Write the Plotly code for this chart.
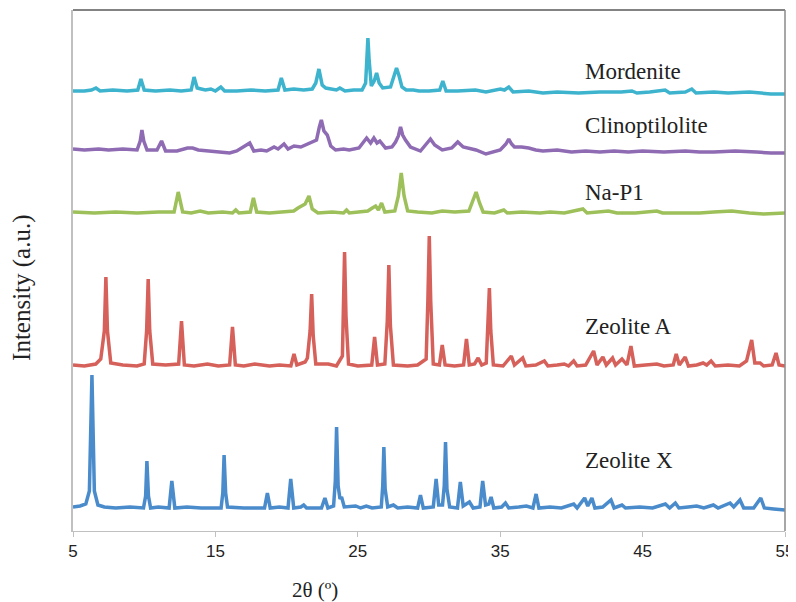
import plotly.graph_objects as go

# ---------------- data (2θ in degrees, intensity in a.u., stacked as drawn) ----------------
zx_x = [5.0, 5.5, 5.9, 6.15, 6.33, 6.5, 6.75, 7.2, 8.0, 9.0, 9.95, 10.1, 10.19, 10.3, 10.45, 11.0,
        11.75, 11.94, 12.15, 13.0, 14.0, 15.4, 15.52, 15.61, 15.72, 15.85, 17.0, 18.45, 18.65,
        18.85, 19.5, 20.1, 20.29, 20.5, 21.0, 21.2, 21.4, 22.45, 22.69, 22.9, 23.3, 23.42, 23.51,
        23.62, 23.75, 23.86, 24.05, 24.85, 25.2, 25.6, 26.0, 26.65, 26.75, 26.83, 26.92, 27.1,
        27.5, 27.8, 28.5, 29.2, 29.4, 29.6, 30.3, 30.5, 30.68, 30.95, 31.07, 31.16, 31.26, 31.45,
        32.0, 32.2, 32.4, 32.84, 33.1, 33.58, 33.77, 33.97, 34.2, 34.36, 34.55, 35.1, 35.37, 35.6,
        36.3, 36.84, 37.3, 37.52, 37.72, 38.5, 39.3, 40.16, 40.4, 40.93, 41.15, 41.44, 41.65,
        42.2, 42.78, 43.0, 43.55, 43.8, 44.8, 45.7, 46.6, 46.9, 47.3, 47.55, 48.2, 48.8, 49.3,
        49.97, 50.3, 51.14, 51.4, 51.84, 52.1, 52.8, 53.3, 53.55, 54.2, 55.0]
zx_y = [24, 25, 27, 40, 156, 40, 26, 24, 23, 24, 23, 35, 70, 35, 23, 24,
        23, 50, 23, 24, 23, 23, 38, 76, 38, 24, 23, 23, 38,
        23, 24, 23, 52, 23, 24, 26, 23, 23, 33, 23, 25, 50, 104,
        45, 32, 34, 24, 25, 23, 25, 23, 24, 45, 84, 42, 24,
        26, 23, 24, 23, 36, 23, 24, 52, 26, 26, 45, 89, 42, 24,
        23, 49, 25, 29, 23, 24, 50, 26, 27, 34, 23, 24, 28, 23,
        24, 25, 23, 37, 23, 24, 23, 27, 23, 33, 25, 33, 23,
        24, 31, 23, 26, 23, 24, 23, 27, 23, 28, 23, 24, 25, 23,
        26, 23, 28, 24, 31, 23, 23, 33, 23, 22, 21]

za_x = [5.0, 5.8, 6.6, 6.95, 7.2, 7.31, 7.42, 7.65, 8.5, 9.5, 10.0, 10.17, 10.28, 10.39, 10.6,
        11.5, 12.42, 12.62, 12.82, 13.5, 14.44, 15.2, 16.0, 16.2, 16.4, 17.0, 17.76, 18.8, 19.5,
        20.3, 20.52, 20.72, 21.3, 21.46, 21.65, 21.76, 21.87, 22.05, 22.93, 23.5, 23.92, 23.97,
        24.07, 24.17, 24.35, 25.0, 25.98, 26.18, 26.38, 26.9, 27.07, 27.18, 27.29, 27.5, 28.5,
        29.2, 29.8, 29.92, 30.02, 30.12, 30.3, 30.73, 30.93, 31.13, 31.8, 32.43, 32.63, 32.83,
        33.2, 33.45, 33.7, 34.02, 34.14, 34.24, 34.34, 34.52, 35.2, 35.78, 36.0, 36.58, 36.8,
        37.5, 38.1, 38.35, 39.0, 39.5, 39.8, 40.16, 40.4, 41.0, 41.56, 41.8, 42.21, 42.45, 42.89,
        43.1, 43.55, 43.9, 44.18, 44.42, 45.2, 46.0, 46.5, 47.15, 47.36, 47.58, 47.99, 48.22,
        48.8, 49.25, 49.5, 49.81, 50.1, 51.0, 51.8, 52.08, 52.3, 52.66, 52.88, 53.25, 53.5, 54.1,
        54.37, 54.58, 55.0]
za_y = [166, 165, 167, 172, 200, 254, 200, 168, 166, 165, 167, 200, 252, 200, 167,
        166, 167, 210, 166, 165, 167, 165, 166, 204, 166, 165, 167, 165, 166,
        165, 177, 166, 169, 173, 200, 237, 195, 167, 167, 165, 175, 220,
        279, 215, 167, 165, 166, 194, 166, 167, 210, 266, 205, 166, 165,
        166, 172, 230, 295, 230, 167, 166, 186, 166, 165, 166, 192, 166,
        167, 173, 166, 168, 205, 243, 200, 166, 165, 175, 166, 173, 165,
        166, 170, 165, 166, 167, 165, 170, 165, 166, 180, 166, 174, 166, 173,
        166, 172, 166, 185, 165, 166, 167, 165, 166, 177, 166, 174, 165,
        166, 168, 166, 170, 165, 166, 165, 168, 170, 191, 168, 168, 165, 166,
        178, 166, 165]

np_x = [5.0, 6.5, 8.0, 9.5, 11.0, 12.1, 12.39, 12.7, 13.3, 13.93, 14.5, 15.5, 16.2, 16.43, 16.65,
        17.45, 17.67, 17.9, 18.8, 19.8, 20.5, 20.8, 21.3, 21.57, 21.8, 22.2, 23.2, 24.0, 24.21,
        24.4, 25.2, 25.7, 26.02, 26.25, 26.45, 26.67, 26.9, 27.6, 27.85, 28.05, 28.25, 28.5, 29.2,
        30.2, 30.93, 31.8, 32.8, 33.1, 33.31, 33.55, 33.8, 34.6, 35.25, 35.5, 36.5, 37.8, 38.5,
        39.5, 40.81, 41.1, 42.6, 43.2, 44.5, 46.0, 46.4, 47.5, 49.0, 50.0, 51.26, 52.5, 53.5, 55.0]
np_y = [319, 318, 319, 318, 319, 319, 339, 319, 318, 320, 318, 319, 318, 321, 318,
        319, 333, 319, 318, 319, 320, 323, 327, 335, 322, 318, 319, 318, 321,
        318, 319, 320, 323, 325, 321, 328, 319, 320, 335, 358, 335, 320, 319,
        318, 320, 319, 320, 330, 339, 328, 319, 318, 321, 318, 319, 318, 319,
        318, 322, 318, 320, 318, 318, 320, 318, 318, 318, 319, 320, 318, 317, 318]

cl_x = [5.0, 5.8, 6.8, 7.5, 8.5, 9.5, 9.72, 9.84, 9.97, 10.2, 10.9, 11.22, 11.5, 12.3, 13.04, 13.4,
        13.8, 14.5, 15.2, 16.0, 16.5, 16.97, 17.41, 17.7, 18.2, 18.6, 19.12, 19.4, 19.82, 20.1,
        20.52, 21.0, 21.57, 22.1, 22.3, 22.44, 22.62, 22.86, 23.1, 23.44, 24.0, 24.4, 25.08, 25.62,
        25.9, 26.13, 26.35, 26.55, 26.95, 27.4, 27.65, 27.85, 28.0, 28.15, 28.35, 28.7, 29.4,
        29.75, 29.99, 30.1, 30.4, 30.93, 31.6, 32.02, 32.4, 32.79, 33.3, 34.0, 34.5, 35.0, 35.4,
        35.6, 35.8, 36.0, 36.5, 37.0, 37.5, 38.0, 39.0, 40.0, 41.0, 42.0, 43.0, 44.0, 45.0, 46.5,
        48.0, 49.0, 50.0, 51.5, 53.0, 54.0, 55.0]
cl_y = [382, 381, 382, 381, 382, 381, 390, 401, 390, 381, 381, 390, 380, 380, 383, 383,
        381, 380, 379, 378, 380, 384, 388, 380, 381, 380, 384, 382, 387, 382,
        385, 384, 388, 391, 404, 411, 400, 396, 385, 381, 382, 381, 383, 393,
        388, 393, 388, 390, 383, 384, 389, 395, 404, 396, 391, 384, 380,
        386, 389, 392, 386, 381, 383, 389, 384, 383, 381, 377, 379, 381, 387,
        392, 387, 384, 384, 383, 381, 380, 381, 379, 380, 379, 380, 379, 380, 379,
        380, 379, 379, 380, 379, 378, 378]

mo_x = [5.0, 5.8, 6.3, 6.61, 6.9, 7.8, 8.8, 9.55, 9.77, 10.0, 10.8, 11.8, 12.6, 13.3, 13.5, 13.72,
        14.0, 14.3, 14.68, 15.0, 15.38, 15.65, 16.5, 17.5, 18.5, 19.4, 19.63, 19.88, 20.5, 21.2,
        21.8, 22.05, 22.27, 22.5, 22.75, 23.21, 23.5, 23.74, 24.1, 24.7, 25.3, 25.55, 25.63, 25.71,
        25.8, 25.95, 26.15, 26.32, 26.5, 26.75, 27.3, 27.55, 27.72, 27.9, 28.1, 28.4, 28.9, 29.3,
        30.0, 30.75, 30.97, 31.2, 32.0, 33.26, 34.0, 35.01, 35.3, 35.6, 35.9, 37.0, 38.0, 39.0,
        40.5, 42.0, 43.5, 44.25, 44.6, 45.5, 46.58, 46.9, 48.0, 48.45, 48.75, 50.0, 51.0, 52.5,
        54.0, 55.0]
mo_y = [440, 440, 441, 443, 440, 441, 440, 441, 452, 441, 440, 441, 440, 441, 454, 443,
        442, 441, 442, 440, 444, 440, 440, 441, 440, 441, 453, 441, 442, 441,
        442, 448, 462, 446, 443, 442, 441, 443, 440, 441, 441, 448, 475, 493,
        470, 445, 450, 458, 448, 443, 444, 455, 463, 455, 444, 441, 441, 440,
        440, 441, 450, 440, 440, 441, 439, 442, 441, 444, 439, 440, 438, 439,
        438, 439, 439, 440, 438, 439, 441, 438, 439, 442, 438, 439, 438, 439,
        437, 437]

series_names = ["Zeolite X", "Zeolite A", "Na-P1", "Clinoptilolite", "Mordenite"]
series_x = [zx_x, za_x, np_x, cl_x, mo_x]
series_y = [zx_y, za_y, np_y, cl_y, mo_y]
series_colors = ["#4A8BCB", "#D6605A", "#9DC05A", "#8E6BB3", "#3DB3CE"]

label_x = [40.8, 40.8, 40.8, 40.8, 40.8]
label_y = [70.5, 205, 339, 406, 460]

x_ticks = [5, 15, 25, 35, 45, 55]

# ---------------- figure ----------------
fig = go.Figure()
for name, xs, ys, col in zip(series_names, series_x, series_y, series_colors):
    fig.add_trace(go.Scatter(x=xs, y=ys, mode="lines", name=name,
                             line=dict(color=col, width=3.5), showlegend=False))

for name, lx, ly in zip(series_names, label_x, label_y):
    fig.add_annotation(x=lx, y=ly, xref="x", yref="y", text=name, showarrow=False,
                       xanchor="left", yanchor="middle",
                       font=dict(family="Liberation Serif", size=23, color="#222222"))

fig.add_annotation(x=0.34, y=-0.113, xref="paper", yref="paper", text="2θ (º)",
                   showarrow=False, xanchor="center", yanchor="middle",
                   font=dict(family="Liberation Serif", size=21, color="#222222"))
fig.add_annotation(x=-0.072, y=0.466, xref="paper", yref="paper", text="Intensity (a.u.)",
                   showarrow=False, textangle=-90, xanchor="center", yanchor="middle",
                   font=dict(family="Liberation Serif", size=25, color="#222222"))

# frame lines (top and right)
fig.add_shape(type="line", xref="paper", yref="paper", x0=0, x1=1, y0=1, y1=1,
              line=dict(color="#5a5a5a", width=1.5))
fig.add_shape(type="line", xref="paper", yref="paper", x0=1, x1=1, y0=0, y1=1,
              line=dict(color="#8a8a8a", width=1.5))

fig.update_layout(
    width=788, height=594,
    margin=dict(l=65, r=11, t=2, b=71),
    paper_bgcolor="white", plot_bgcolor="white",
    xaxis=dict(range=[5, 55], tickvals=x_ticks, ticktext=[str(t) for t in x_ticks],
               showgrid=False, zeroline=False, showline=True, linecolor="#c0c0c0", linewidth=1,
               ticks="outside", ticklen=5, tickcolor="#c0c0c0",
               tickfont=dict(family="Liberation Sans", size=17, color="#222222")),
    yaxis=dict(range=[0, 521], showgrid=False, zeroline=False, showline=True,
               linecolor="#c0c0c0", linewidth=1.5, showticklabels=False, ticks=""),
)

fig.write_html("out.html")
